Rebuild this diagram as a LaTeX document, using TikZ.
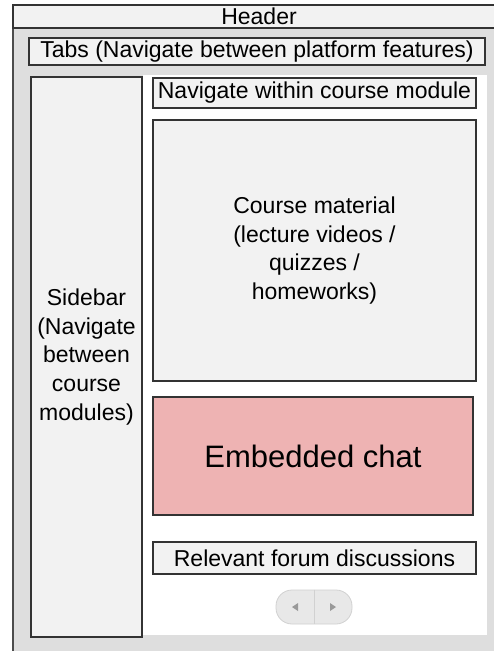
\documentclass[tikz,border=0pt]{standalone}
\usepackage{fontspec}
\setmainfont{Liberation Sans}
\usepackage{xcolor}
\definecolor{framegray}{HTML}{DEDEDE}
\definecolor{boxgray}{HTML}{F2F2F2}
\definecolor{chatpink}{HTML}{EEB3B3}
\definecolor{pillgray}{HTML}{E8E8E8}
\def\boxw{323pt}

\begin{document}
\begin{tikzpicture}[x=1pt,y=-1pt,line width=1.1pt,draw=black!80]
    \tikzstyle{panel}=[rectangle,draw,fill=boxgray,inner sep=0pt,outer sep=0pt,align=center,
        font=\fontsize{23}{28.8}\selectfont]
    \tikzstyle{content}=[panel,minimum width=\boxw]
    \tikzstyle{chat}=[panel,fill=chatpink,font=\fontsize{31}{36}\selectfont]

    % Fix the page and cut off what runs past it
    \path[use as bounding box,clip] (0,0) rectangle (494,651);

    % Draw the gray frame of the page
    \fill[framegray] (13,28) rectangle (510,670);
    \fill[white] (143,75) rectangle (487,635);
    \draw[black!70] (13,5) -- (13,670);

    % Draw the header and the tabs
    \node[panel,minimum width=492pt,minimum height=23pt] (header) at (259,16.5) {Header};
    \node[panel,minimum width=456pt,minimum height=27pt] (tabs) at (257,51.5)
        {Tabs (Navigate between platform features)};

    % Draw the sidebar
    \node[panel,minimum width=111pt,minimum height=560pt] (sidebar) at (86.5,357)
        {Sidebar\\(Navigate\\between\\course\\modules)};

    % Draw the content column
    \node[content,minimum height=30pt] (nav) at (314.5,93) {Navigate within course module};
    \node[content,minimum height=261pt] (material) at (314.5,250.5)
        {Course material\\(lecture videos /\\quizzes /\\homeworks)};
    \node[chat,minimum width=320pt,minimum height=118pt] (chat) at (313,456) {Embedded chat};
    \node[content,minimum height=32pt] (forum) at (314.5,558) {Relevant forum discussions};

    % Draw the scroll buttons
    \node[rectangle,rounded corners=16pt,draw=black!18,line width=0.8pt,fill=pillgray,
        minimum width=76pt,minimum height=34pt] (pill) at (314,607) {};
    \draw[black!18,line width=0.8pt] (pill.north) -- (pill.south);
    \fill[black!40] ([xshift=-22pt]pill.center) -- ++(6,-4) -- ++(0,8) -- cycle;
    \fill[black!40] ([xshift=22pt]pill.center) -- ++(-6,-4) -- ++(0,8) -- cycle;
\end{tikzpicture}
\end{document}
